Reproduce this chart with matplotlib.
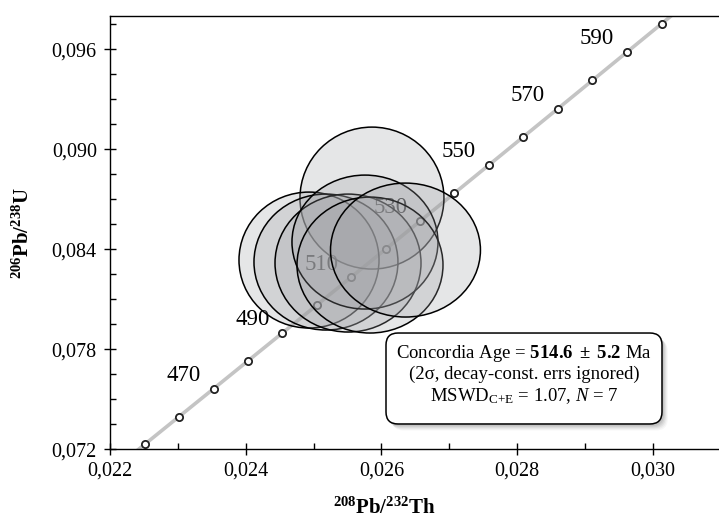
import matplotlib
matplotlib.use("Agg")
import matplotlib.pyplot as plt
from matplotlib.patches import Ellipse, FancyBboxPatch
from matplotlib.ticker import FuncFormatter, MultipleLocator

# --- fonts ---
plt.rcParams['font.family'] = ['Liberation Serif', 'DejaVu Serif']
plt.rcParams['mathtext.fontset'] = 'custom'
plt.rcParams['mathtext.rm'] = 'Liberation Serif'
plt.rcParams['mathtext.it'] = 'Liberation Serif:italic'
plt.rcParams['mathtext.bf'] = 'Liberation Serif:bold'

# --- data ---
# concordia points (age in Ma, 208Pb/232Th, 206Pb/238U)
conc_age = [440, 450, 460, 470, 480, 490, 500, 510, 520,
            530, 540, 550, 560, 570, 580, 590, 600, 610]
conc_x = [0.022008, 0.022513, 0.023019, 0.023526, 0.024032, 0.024539,
          0.025046, 0.025553, 0.026061, 0.026569, 0.027077, 0.027585,
          0.028093, 0.028602, 0.029111, 0.029620, 0.030130, 0.030640]
conc_y = [0.070638, 0.072300, 0.073965, 0.075632, 0.077303, 0.078975,
          0.080650, 0.082327, 0.084008, 0.085691, 0.087376, 0.089064,
          0.090755, 0.092448, 0.094144, 0.095843, 0.097544, 0.099248]
tick_ages = [450, 460, 470, 480, 490, 500, 510, 520, 530,
             540, 550, 560, 570, 580, 590, 600]
label_ages = [470, 490, 510, 530, 550, 570, 590]

# error ellipses (centre, half axes), in drawing order
ell_x = [0.025861, 0.024933, 0.025183, 0.025508, 0.025758, 0.025832, 0.026355]
ell_y = [0.087078, 0.083358, 0.083238, 0.083178, 0.084438, 0.083058, 0.083958]
ell_sx = [0.001061, 0.001032, 0.001061, 0.001076, 0.001076, 0.001076, 0.001105]
ell_sy = [0.00426, 0.00408, 0.00408, 0.00414, 0.00402, 0.00408, 0.00402]

fig = plt.figure(figsize=(7.19, 5.2), dpi=100)
ax = fig.add_axes([0.153, 0.136, 0.847, 0.833])

# concordia curve
ax.plot(conc_x, conc_y, color='#c4c4c4', lw=2.6, zorder=1, solid_capstyle='butt')
mx = [conc_x[conc_age.index(a)] for a in tick_ages]
my = [conc_y[conc_age.index(a)] for a in tick_ages]
ax.plot(mx, my, 'o', ms=5.2, mfc='white', mec='#222222', mew=1.3, zorder=2)
for a in label_ages:
    i = conc_age.index(a)
    ax.annotate(str(a), (conc_x[i], conc_y[i]), xytext=(-21.5, 9.5),
                textcoords='offset points', ha='center', va='center',
                fontsize=16.5, zorder=2)

# ellipses
for k in range(len(ell_x)):
    e = Ellipse((ell_x[k], ell_y[k]), 2 * ell_sx[k], 2 * ell_sy[k],
                facecolor=(0.62, 0.625, 0.64, 0.26), edgecolor='black',
                lw=1.1, zorder=3 + k)
    ax.add_patch(e)

ax.set_xlim(0.022, 0.030976)
ax.set_ylim(0.072, 0.098)

fmt = FuncFormatter(lambda v, p: f'{v:.3f}'.replace('.', ','))
ax.xaxis.set_major_locator(MultipleLocator(0.002))
ax.xaxis.set_minor_locator(MultipleLocator(0.001))
ax.yaxis.set_major_locator(MultipleLocator(0.006))
ax.yaxis.set_minor_locator(MultipleLocator(0.0015))
ax.xaxis.set_major_formatter(fmt)
ax.yaxis.set_major_formatter(fmt)
ax.tick_params(which='major', direction='inout', length=9, width=1.0,
               labelsize=14.5, pad=4)
ax.tick_params(which='minor', direction='in', length=4, width=1.0)
ax.tick_params(axis='y', which='major', pad=5)
ax.spines['right'].set_visible(False)
for s in ['left', 'bottom', 'top']:
    ax.spines[s].set_linewidth(1.0)

fig.text(0.534, 0.023, r'$^{\mathbf{208}}\mathbf{Pb/}^{\mathbf{232}}\mathbf{Th}$',
         ha='center', va='center', fontsize=15)
fig.text(0.032, 0.552, r'$^{\mathbf{206}}\mathbf{Pb/}^{\mathbf{238}}\mathbf{U}$',
         ha='center', va='center', fontsize=15, rotation=90)

# result box with soft shadow
bx0, by0, bw, bh = 0.4532, 0.0584, 0.4532, 0.21
rs = 0.0197
asp = 609 / 433.3
for off, al in [(0.012, 0.03), (0.010, 0.04), (0.008, 0.05),
                (0.006, 0.06), (0.004, 0.07)]:
    sh = FancyBboxPatch((bx0 + off * 0.8, by0 - off * asp * 0.9), bw, bh,
                        boxstyle=f'round,pad=0,rounding_size={rs}',
                        mutation_aspect=asp, transform=ax.transAxes,
                        facecolor='black', edgecolor='none', alpha=al, zorder=10)
    ax.add_patch(sh)
box = FancyBboxPatch((bx0, by0), bw, bh,
                     boxstyle=f'round,pad=0,rounding_size={rs}',
                     mutation_aspect=asp, transform=ax.transAxes,
                     facecolor='white', edgecolor='black', lw=1.1, zorder=11)
ax.add_patch(box)
ax.text(0.6798, 0.173,
        'Concordia Age = $\\mathbf{514.6\\ \\pm\\ 5.2}$ Ma\n'
        '(2σ, decay-const. errs ignored)\n'
        'MSWD$_{\\mathrm{C{+}E}}$ = 1.07, $\\mathit{N}$ = 7',
        transform=ax.transAxes, ha='center', va='center', fontsize=13.5,
        linespacing=1.15, zorder=12)

fig.savefig('out.png', dpi=100)
